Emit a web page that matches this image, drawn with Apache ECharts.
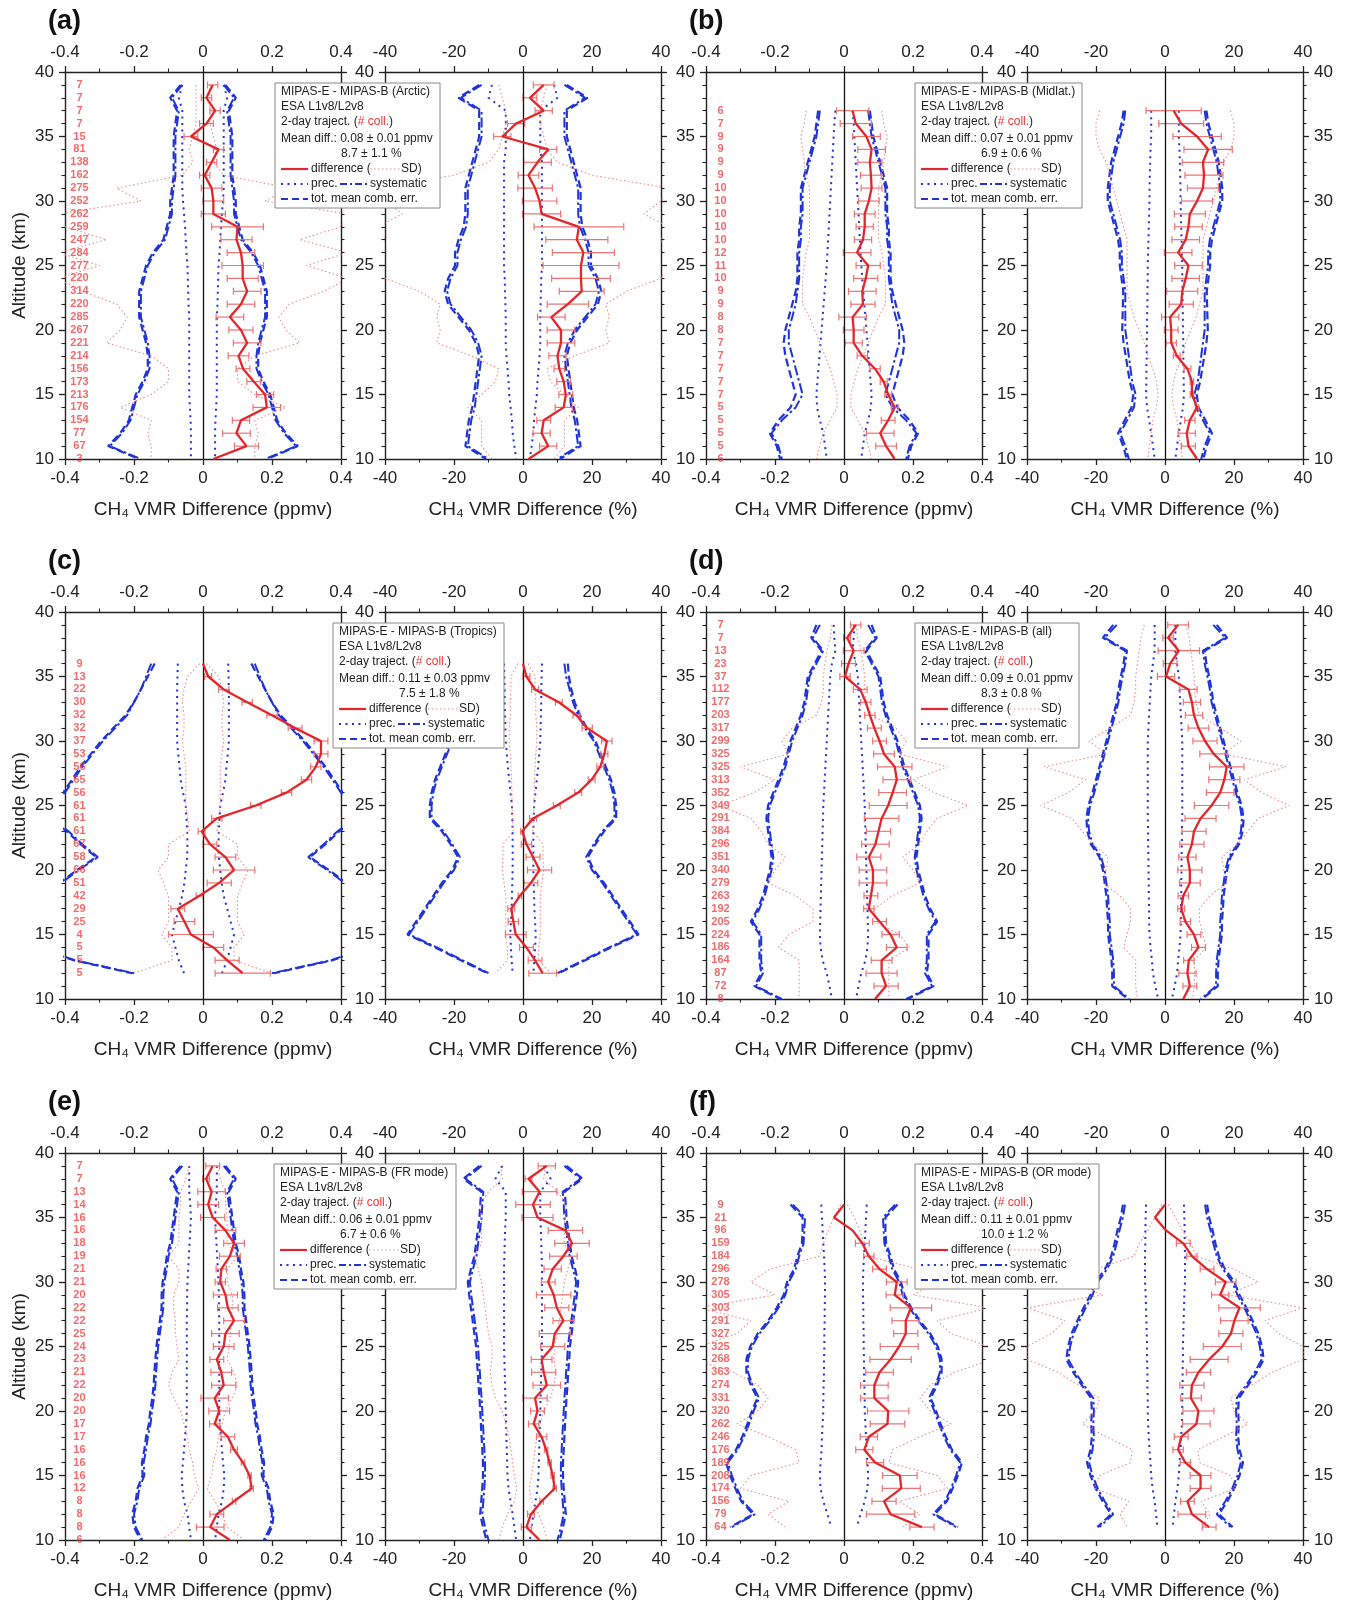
<!DOCTYPE html>
<html><head><meta charset="utf-8">
<script src="https://cdn.jsdelivr.net/npm/echarts@6/dist/echarts.min.js"></script>
<style>html,body{margin:0;padding:0;background:#fff}#c{width:1351px;height:1604px}</style>
</head><body><div id="c"></div>
<script>
// ---------- altitude levels (km), top to bottom ----------
const alt39to10 = [39,38,37,36,35,34,33,32,31,30,29,28,27,26,25,24,23,22,21,20,19,18,17,16,15,14,13,12,11,10];
const alt37to10 = [37,36,35,34,33,32,31,30,29,28,27,26,25,24,23,22,21,20,19,18,17,16,15,14,13,12,11,10];
const alt36to12 = [36,35,34,33,32,31,30,29,28,27,26,25,24,23,22,21,20,19,18,17,16,15,14,13,12];
const alt36to11 = [36,35,34,33,32,31,30,29,28,27,26,25,24,23,22,21,20,19,18,17,16,15,14,13,12,11];

// ---------- tick labels ----------
const ppmvTicks = [-0.4,-0.2,0,0.2,0.4];
const pctTicks = [-40,-20,0,20,40];
const altTicks = [10,15,20,25,30,35,40];

// ---------- (a) Arctic ----------
const countsA = [7,7,7,7,15,81,138,162,275,252,262,259,247,284,277,220,314,220,285,267,221,214,156,173,213,176,154,77,67,3];
const aDiffP = [0.028,0.01,0.035,0.01,-0.035,0.045,0.025,0.005,0.025,0.03,0.03,0.1,0.097,0.11,0.115,0.115,0.128,0.11,0.078,0.11,0.128,0.103,0.116,0.147,0.18,0.185,0.11,0.097,0.126,0.03];
const aErrP = [0.015,0.015,0.015,0.02,0.02,0.015,0.015,0.015,0.03,0.03,0.035,0.075,0.045,0.04,0.06,0.045,0.04,0.04,0.04,0.035,0.04,0.03,0.02,0.02,0.025,0.04,0.025,0.04,0.035,0];
const aSdP = [0.02,0.02,0.02,0.02,0.03,0.04,0.03,0.06,0.25,0.18,0.42,0.4,0.28,0.42,0.3,0.42,0.35,0.25,0.22,0.24,0.28,0.15,0.1,0.1,0.15,0.24,0.15,0.16,0.15,0.15];
const aPrecP = [0.06,0.07,0.06,0.06,0.06,0.06,0.06,0.06,0.06,0.058,0.055,0.052,0.05,0.048,0.045,0.044,0.043,0.042,0.04,0.04,0.04,0.04,0.04,0.04,0.04,0.038,0.036,0.035,0.035,0.035];
const aSysP = [0.06,0.09,0.07,0.075,0.08,0.08,0.08,0.08,0.085,0.09,0.09,0.1,0.11,0.14,0.16,0.17,0.18,0.18,0.18,0.17,0.16,0.155,0.155,0.17,0.19,0.2,0.21,0.235,0.27,0.18];
const aTotP = [0.065,0.095,0.075,0.08,0.085,0.085,0.085,0.085,0.09,0.095,0.095,0.105,0.115,0.145,0.165,0.175,0.185,0.185,0.185,0.175,0.165,0.16,0.16,0.175,0.195,0.205,0.215,0.24,0.275,0.185];
const aDiffR = [6,2,6,-2,-6,7.3,4.2,1.6,3.5,4.8,5.4,16.2,15.6,17.5,16.8,16.8,17,13,8.2,11,11,10,10.5,11.8,12.4,11.8,6,5.4,7.3,1.6];
const aErrR = [3,2,2.5,2.5,2.5,2.5,4,3,5,5,5.5,13,9,9,11,8.5,6.5,6,4,4,4,2.5,1.5,2,2,2.5,2,2.5,2.5,0];
const aSdR = [7,6,5,5,6,7,10,20,42,40,35,42,40,42,42,40,30,24,25,24,25,15,7,8,12,16,12,12,12,9];
const aPrecR = [9,10,5,5,5,5,5.5,5.5,5.5,5.5,5.5,5.5,5.5,5.5,5.5,5.3,5.2,5.1,5,5,5,4.8,4.5,4.2,4,3.6,3.2,3,2.5,2];
const aSysR = [12,18,12,12,12,13,14,15,16,16,16,16.5,18,19,19,21,22,21,18,15,13,12,12.5,13,13.5,14,15,15.5,16,10];
const aTotR = [12.7,18.7,12.7,12.7,12.7,13.7,14.7,15.7,16.7,16.7,16.7,17.2,18.7,19.7,19.7,21.7,22.7,21.7,18.7,15.7,13.7,12.7,13.2,13.7,14.2,14.7,15.7,16.2,16.7,10.7];

// ---------- (b) Midlat. ----------
const countsB = [6,7,9,9,9,9,10,10,10,10,10,12,11,10,9,9,8,8,7,7,7,7,7,5,5,5,5,6];
const bDiffP = [0.025,0.034,0.065,0.08,0.075,0.078,0.08,0.072,0.06,0.06,0.055,0.038,0.07,0.063,0.053,0.055,0.025,0.028,0.028,0.053,0.09,0.115,0.128,0.147,0.128,0.105,0.122,0.147];
const bErrP = [0.047,0.045,0.04,0.04,0.035,0.03,0.03,0.03,0.03,0.025,0.025,0.04,0.035,0.035,0.04,0.035,0.04,0.03,0.025,0.015,0.015,0.01,0.01,0.01,0.02,0.04,0.03,0];
const bSdP = [0.11,0.115,0.125,0.12,0.115,0.11,0.1,0.1,0.1,0.1,0.1,0.11,0.115,0.12,0.12,0.12,0.1,0.085,0.07,0.055,0.04,0.03,0.02,0.02,0.04,0.06,0.07,0.08];
const bPrecP = [0.025,0.028,0.03,0.032,0.034,0.036,0.038,0.04,0.042,0.044,0.046,0.048,0.05,0.053,0.056,0.059,0.062,0.065,0.068,0.071,0.074,0.077,0.08,0.078,0.07,0.06,0.055,0.05];
const bSysP = [0.07,0.075,0.08,0.09,0.1,0.11,0.12,0.12,0.12,0.125,0.125,0.13,0.13,0.13,0.135,0.14,0.15,0.16,0.16,0.15,0.14,0.13,0.12,0.14,0.18,0.21,0.19,0.18];
const bTotP = [0.075,0.08,0.085,0.095,0.105,0.115,0.125,0.125,0.125,0.13,0.13,0.135,0.135,0.135,0.14,0.15,0.16,0.17,0.175,0.17,0.16,0.15,0.14,0.155,0.19,0.215,0.195,0.185];
const bDiffR = [2.5,4.7,9.3,12.5,11,11.3,11,9.3,7.2,6.8,6,3.8,6.8,6,5,4.7,1.5,1.8,1.8,3.4,6.5,7.8,7.8,9.3,7.2,6.3,6.8,9.3];
const bErrR = [8,6.5,7,7,6,5.5,4.5,4.5,4.5,4,4,4,4,4,4.5,3.5,2.5,2,1.5,1,1,0.5,0.5,0.5,1.5,2.5,2,0];
const bSdR = [19,20,20,19,17,16,15,14,13,12,11,11,11,11,11,10,9,7.5,6,5,3.5,2.5,2,2.5,3.5,4,4.5,5];
const bPrecR = [4,4,4,4.2,4.3,4.4,4.5,4.5,4.6,4.7,4.8,4.9,5,5,5.1,5.1,5.2,5.2,5.3,5.3,5.4,5.4,5.5,5.2,4.6,4,3.5,3];
const bSysR = [11.5,12,13,14,15,15.5,16,16,15,14,13,12.5,12.5,12,11.5,11.5,11.5,11.5,11,10.5,10,9.5,8.5,9,11,13,11.5,10.5];
const bTotR = [12,12.6,13.6,14.6,15.6,16.1,16.6,16.6,15.6,14.6,13.6,13.1,13.1,12.6,12.1,12.2,12.3,12.4,12,11.4,10.8,10.2,9.2,9.7,11.7,13.6,12.1,11.1];

// ---------- (c) Tropics ----------
const countsC = [9,13,22,30,32,32,37,53,56,65,56,61,61,61,67,58,66,51,42,29,25,4,5,5,5];
const cDiffP = [0,0.015,0.06,0.128,0.2,0.267,0.342,0.342,0.327,0.3,0.242,0.153,0.04,-0.004,0.02,0.065,0.09,0.047,-0.01,-0.073,-0.054,-0.035,0.03,0.07,0.115];
const cErrP = [0,0.01,0.015,0.015,0.015,0.02,0.02,0.02,0.015,0.015,0.015,0.015,0.015,0.01,0.02,0.03,0.06,0.035,0.01,0.02,0.03,0.065,0.03,0.035,0.08];
const cSdP = [0.01,0.045,0.055,0.06,0.055,0.055,0.06,0.055,0.05,0.05,0.05,0.05,0.045,0.04,0.1,0.1,0.13,0.115,0.1,0.1,0.1,0.12,0.09,0.09,0.2];
const cPrecP = [0.073,0.074,0.075,0.075,0.075,0.075,0.075,0.072,0.068,0.065,0.058,0.05,0.048,0.046,0.045,0.046,0.05,0.054,0.06,0.07,0.08,0.09,0.08,0.07,0.055];
const cSysP = [0.15,0.165,0.18,0.2,0.22,0.255,0.29,0.32,0.35,0.375,0.4,0.43,0.44,0.39,0.35,0.305,0.36,0.41,0.44,0.47,0.5,0.56,0.48,0.37,0.2];
const cTotP = [0.14,0.16,0.18,0.2,0.225,0.26,0.295,0.325,0.355,0.38,0.405,0.435,0.445,0.395,0.355,0.31,0.365,0.415,0.445,0.475,0.505,0.565,0.485,0.375,0.205];
const cDiffR = [0,1,3.5,10.4,15.5,18.6,24.3,23.6,22.4,19.9,16,9.8,2.9,-0.2,1,2.9,4.8,2.3,-0.9,-3.4,-2.8,-2.1,1,3.5,5.7];
const cErrR = [0,1,1,1,1,1.5,1.5,1,1,1,1,1,1,0.5,1.5,2,3.5,2,0.5,1,1.5,3,2,2,4];
const cSdR = [1.5,3.5,3.5,3.7,3.7,4,4,3.7,3.5,3.3,3.2,3.2,3,2.8,5.8,5.8,6,5.5,5,5,5,5,4.5,4.5,8];
const cPrecR = [5.5,5.4,5.3,5.3,5.2,5.1,5,4.7,4.4,4,3.6,3.2,3.1,3,3,3,3,3.1,3.2,3.3,3.5,3.7,3.5,3.3,3];
const cSysR = [12,12.5,13.5,14.5,16,18,20.5,22,23.5,25,26,26.5,26.5,23,20.5,18.3,20,23,25.5,28,30.5,33,25,17.5,10];
const cTotR = [13,13.3,14,15,16.5,18.5,21,22.5,24,25.5,26.5,27,27,23.5,21,18.8,20.5,23.5,26,28.5,31,33.5,25.5,18,10.3];

// ---------- (d) all ----------
const countsD = [7,7,13,23,37,112,177,203,317,299,325,325,313,352,349,291,384,296,351,340,279,263,192,205,224,186,164,87,72,8];
const dDiffP = [0.034,0.009,0.028,0.013,0.003,0.047,0.063,0.075,0.088,0.103,0.116,0.147,0.153,0.141,0.128,0.109,0.1,0.091,0.072,0.084,0.084,0.078,0.072,0.103,0.135,0.153,0.109,0.109,0.122,0.09];
const dErrP = [0.015,0.01,0.03,0.02,0.015,0.02,0.015,0.015,0.02,0.02,0.03,0.05,0.04,0.04,0.055,0.05,0.035,0.04,0.035,0.04,0.04,0.02,0.015,0.02,0.025,0.03,0.03,0.045,0.035,0];
const dSdP = [0.035,0.04,0.05,0.055,0.06,0.06,0.065,0.08,0.15,0.18,0.16,0.3,0.2,0.26,0.36,0.27,0.24,0.22,0.17,0.2,0.22,0.14,0.09,0.09,0.16,0.19,0.13,0.13,0.13,0.13];
const dPrecP = [0.03,0.028,0.025,0.035,0.04,0.042,0.044,0.046,0.048,0.05,0.052,0.054,0.056,0.058,0.06,0.061,0.062,0.063,0.064,0.065,0.066,0.067,0.068,0.069,0.07,0.068,0.062,0.05,0.042,0.035];
const dSysP = [0.07,0.09,0.06,0.08,0.1,0.105,0.11,0.12,0.135,0.15,0.16,0.17,0.185,0.2,0.215,0.22,0.215,0.21,0.205,0.21,0.22,0.23,0.245,0.265,0.24,0.24,0.24,0.235,0.255,0.18];
const dTotP = [0.08,0.095,0.065,0.085,0.105,0.11,0.115,0.125,0.14,0.155,0.165,0.175,0.19,0.205,0.22,0.225,0.22,0.215,0.21,0.215,0.225,0.235,0.25,0.27,0.245,0.245,0.245,0.24,0.26,0.185];
const dDiffR = [3.8,0.9,4,1.5,0.3,6.8,7.8,8.4,9.7,11.6,14.1,17.9,17.2,16,13.5,10.3,8.4,7.8,6.5,7.2,7.2,5.3,4.7,5.9,8.4,9.7,6.9,6.5,7.2,5.3];
const dErrR = [3,1.5,6,2,2.5,2.5,2.5,2.5,3,3.5,4,5,4.5,4,5,4.5,3.5,3.5,2.5,3.5,3,1.5,1,1.5,2,2,1.5,2.5,2,0];
const dSdR = [6,7,7.5,8,8.5,8.5,9,10,16,22,17,35,23,28,36,27,24,21,16.5,17,18,13,10,10,11,12,8.5,8.5,8.5,8];
const dPrecR = [3,3,3,3.5,4,4.2,4.4,4.6,4.8,5,5,5,5,5,5,5,4.9,4.9,4.8,4.8,4.7,4.7,4.6,4.6,4.5,4.2,3.8,3.5,2.8,2];
const dSysR = [14,17.5,11,11.5,12.3,13,13.5,14.5,15.5,16.5,17.5,18.5,19.5,20.5,21.7,22.3,22,21,18.5,17.5,17,16.5,16.3,16,16,15.5,15,14.8,14.8,10.4];
const dTotR = [15,18,11.5,12,12.8,13.5,14,15,16,17,18,19,20,21,22.2,22.8,22.5,21.5,19,18,17.5,17,16.8,16.5,16.5,16,15.5,15.3,15.3,10.8];

// ---------- (e) FR mode ----------
const countsE = [7,7,13,14,16,16,18,19,21,21,20,22,22,25,24,23,21,22,20,20,17,17,16,16,16,12,8,8,8,6];
const eDiffP = [0.028,0.009,0.025,0.015,0.028,0.065,0.09,0.078,0.053,0.05,0.065,0.072,0.09,0.065,0.06,0.04,0.053,0.06,0.034,0.047,0.034,0.072,0.09,0.116,0.135,0.141,0.09,0.04,0.021,0.078];
const eErrP = [0.02,0.01,0.04,0.03,0.035,0.03,0.03,0.03,0.015,0.015,0.035,0.03,0.03,0.04,0.03,0.02,0.03,0.035,0.04,0.03,0.015,0.02,0.01,0.005,0.005,0.005,0.005,0.02,0.04,0];
const eSdP = [0.04,0.05,0.065,0.065,0.07,0.07,0.07,0.1,0.07,0.07,0.085,0.085,0.08,0.08,0.075,0.07,0.09,0.1,0.085,0.065,0.055,0.045,0.04,0.03,0.025,0.012,0.035,0.055,0.07,0.12];
const ePrecP = [0.04,0.04,0.04,0.037,0.035,0.037,0.039,0.041,0.043,0.045,0.046,0.046,0.047,0.047,0.047,0.047,0.047,0.047,0.047,0.047,0.049,0.052,0.055,0.058,0.062,0.06,0.055,0.045,0.04,0.035];
const eSysP = [0.06,0.09,0.07,0.075,0.08,0.085,0.09,0.1,0.105,0.112,0.115,0.115,0.12,0.125,0.13,0.133,0.136,0.138,0.142,0.148,0.152,0.16,0.165,0.172,0.17,0.185,0.19,0.2,0.195,0.176];
const eTotP = [0.065,0.095,0.075,0.08,0.085,0.09,0.095,0.105,0.11,0.117,0.12,0.12,0.125,0.13,0.135,0.138,0.141,0.143,0.147,0.153,0.157,0.165,0.17,0.177,0.175,0.19,0.195,0.205,0.2,0.181];
const eDiffR = [6.9,1.6,4.8,2.9,4.2,12.3,14.2,11.7,8.6,7.3,8.9,9.8,11.7,9.2,8.6,5.4,6,6.9,3.5,4.2,3.1,5.4,6.7,7.7,8.6,9.2,5.4,2.3,1,4.8];
const eErrR = [2.5,1,5,5,4.5,5,5,4,2.5,2,5,3.5,3,4.5,3.5,3,3.5,4,3.5,2,1.5,1.5,0.5,0.5,0.5,0.5,0.5,1,1.5,0];
const eSdR = [6.5,6,10,12.5,12,12,12,14,13,12,11.5,11,10.5,10,9,9,9.5,9,8,6,5,4,3.5,3,2.5,1.8,2.5,4.5,6,7];
const ePrecR = [6,8,5,5,5,5.2,5.3,5.4,5.5,5.5,5.5,5.5,5.5,5.5,5.5,5.4,5.3,5.2,5.1,5,4.9,4.8,4.7,4.6,4.5,4.2,3.6,3,2.5,2];
const eSysR = [12,16.7,11.5,11.8,12,12.5,13,13.5,14.5,15.4,15,14.5,14,13.5,13,12.8,12.5,12.3,12,11.8,11.6,11.4,11.2,11,11,11.2,11.5,11.8,11,10];
const eTotR = [12.6,17.3,12.1,12.4,12.6,13.1,13.6,14.1,15.1,16,15.6,15.1,14.6,14.1,13.6,13.4,13.1,12.9,12.6,12.4,12.2,12,11.8,11.6,11.6,11.8,12.1,12.4,11.6,10.6];

// ---------- (f) OR mode ----------
const countsF = [9,21,96,159,184,296,278,305,303,291,327,325,268,363,274,331,320,262,246,176,189,208,174,156,79,64];
const fDiffP = [0,-0.029,0.025,0.053,0.072,0.103,0.153,0.147,0.194,0.179,0.179,0.16,0.135,0.103,0.088,0.088,0.128,0.126,0.072,0.059,0.09,0.162,0.166,0.116,0.135,0.226];
const fErrP = [0,0,0,0.02,0.015,0.02,0.03,0.025,0.06,0.04,0.035,0.055,0.06,0.04,0.04,0.04,0.06,0.05,0.025,0.025,0.025,0.05,0.055,0.035,0.07,0.035];
const fSdP = [0.01,0.03,0.045,0.06,0.07,0.215,0.27,0.2,0.42,0.27,0.31,0.42,0.43,0.32,0.25,0.22,0.25,0.31,0.22,0.14,0.13,0.27,0.3,0.16,0.22,0.17];
const fPrecP = [0.066,0.064,0.062,0.06,0.058,0.056,0.055,0.055,0.056,0.056,0.057,0.057,0.058,0.058,0.059,0.06,0.06,0.062,0.064,0.065,0.068,0.07,0.068,0.06,0.048,0.037];
const fSysP = [0.148,0.113,0.115,0.117,0.13,0.14,0.16,0.17,0.19,0.215,0.245,0.267,0.278,0.278,0.265,0.246,0.262,0.275,0.29,0.308,0.337,0.325,0.31,0.293,0.258,0.325];
const fTotP = [0.155,0.12,0.12,0.122,0.135,0.145,0.165,0.175,0.195,0.22,0.25,0.272,0.283,0.283,0.27,0.251,0.267,0.28,0.295,0.313,0.342,0.33,0.315,0.298,0.263,0.33];
const fDiffR = [0,-2.9,0.3,5.3,7.8,12.2,17.6,16,21.6,20.1,19.1,16.6,12.8,9.7,7.8,7.5,9.7,9.1,4.7,3.8,5.9,10.3,10.3,6.5,7.8,12.8];
const fErrR = [0,0,0,2,1.5,2,3,2.5,6,4,3.5,5.5,5.5,3.5,3.5,3,4.5,4,2,1.5,1.5,3,3,2,4,2];
const fSdR = [1,3,5,7.5,9,20,27,18,40,29,33,40,40,31,25,19,20,24,17,9.5,10,19,20.5,10.5,13,11];
const fPrecR = [5.5,5.6,5.7,5.7,5.8,5.8,5.8,5.6,5.5,5.4,5.3,5.2,5.2,5.1,5.1,5,5,4.9,4.7,4.5,4.2,4,3.6,3,2.6,2.2];
const fSysR = [11.6,12.2,13.2,14,15,16.8,19.5,21,23,24.8,26.5,27.5,28,26,23.5,20.8,20.6,20.8,20.6,21,22,21,19.5,17.5,15,19];
const fTotR = [12.2,12.8,13.8,14.6,15.6,17.4,20.1,21.6,23.6,25.4,27.1,28.1,28.6,26.6,24.1,21.4,21.2,21.4,21.2,21.6,22.6,21.6,20.1,18.1,15.6,19.6];

// ---------- legend texts ----------
const panelLabels = ['(a)','(b)','(c)','(d)','(e)','(f)'];
const legendTitles = ['MIPAS-E - MIPAS-B (Arctic)','MIPAS-E - MIPAS-B (Midlat.)','MIPAS-E - MIPAS-B (Tropics)','MIPAS-E - MIPAS-B (all)','MIPAS-E - MIPAS-B (FR mode)','MIPAS-E - MIPAS-B (OR mode)'];
const legendMeans = ['Mean diff.: 0.08 ± 0.01 ppmv','Mean diff.: 0.07 ± 0.01 ppmv','Mean diff.: 0.11 ± 0.03 ppmv','Mean diff.: 0.09 ± 0.01 ppmv','Mean diff.: 0.06 ± 0.01 ppmv','Mean diff.: 0.11 ± 0.01 ppmv'];
const legendPcts = ['8.7 ± 1.1 %','6.9 ± 0.6 %','7.5 ± 1.8 %','8.3 ± 0.8 %','6.7 ± 0.6 %','10.0 ± 1.2 %'];

// ---------- layout & style ----------
const FONT = '"Liberation Sans", Arial, Helvetica, sans-serif';
const BLUE = '#1f33d6', RED = '#e3262b', PINK = '#f08a8a', ERRC = '#ee7474', CNT = '#f04545';
const COLX = [[65,385],[706,1027]];
const ROWY = [72,612,1153];
const W = 276, H = 387;
const LEGX = [275,915,333,915,274,915];
const LEGW = [165,167,171,164,182,184];
const LEGY = [83,623,1164];
const COUNT_X = -0.358;

const panels = [
  {alts:alt39to10, counts:countsA, P:[aDiffP,aErrP,aSdP,aPrecP,aSysP,aTotP], R:[aDiffR,aErrR,aSdR,aPrecR,aSysR,aTotR]},
  {alts:alt37to10, counts:countsB, P:[bDiffP,bErrP,bSdP,bPrecP,bSysP,bTotP], R:[bDiffR,bErrR,bSdR,bPrecR,bSysR,bTotR]},
  {alts:alt36to12, counts:countsC, P:[cDiffP,cErrP,cSdP,cPrecP,cSysP,cTotP], R:[cDiffR,cErrR,cSdR,cPrecR,cSysR,cTotR]},
  {alts:alt39to10, counts:countsD, P:[dDiffP,dErrP,dSdP,dPrecP,dSysP,dTotP], R:[dDiffR,dErrR,dSdR,dPrecR,dSysR,dTotR]},
  {alts:alt39to10, counts:countsE, P:[eDiffP,eErrP,eSdP,ePrecP,eSysP,eTotP], R:[eDiffR,eErrR,eSdR,ePrecR,eSysR,eTotR]},
  {alts:alt36to11, counts:countsF, P:[fDiffP,fErrP,fSdP,fPrecP,fSysP,fTotP], R:[fDiffR,fErrR,fSdR,fPrecR,fSysR,fTotR]}
];

const grids = [], xAxes = [], yAxes = [], series = [], graphics = [];

function makeX(gi, pos, ticks){
  return {type:'value', gridIndex:gi, position:pos, min:ticks[0], max:ticks[ticks.length-1], interval:ticks[1]-ticks[0], z:1,
    axisLine:{show:true, onZero:false, lineStyle:{color:'#222', width:1.4}},
    axisTick:{show:true, inside:false, length:6, lineStyle:{color:'#222', width:1.3}},
    minorTick:{show:true, splitNumber:2, length:3.5, lineStyle:{color:'#222', width:1.1}},
    axisLabel:{show:true, fontSize:17, color:'#222', fontFamily:FONT, margin:11, showMinLabel:true, showMaxLabel:true, hideOverlap:false},
    splitLine:{show:false}, minorSplitLine:{show:false}};
}
function makeY(gi, pos, showLabel){
  return {type:'value', gridIndex:gi, position:pos, min:altTicks[0], max:altTicks[altTicks.length-1], interval:altTicks[1]-altTicks[0], z:1,
    axisLine:{show:true, onZero:false, lineStyle:{color:'#222', width:1.4}},
    axisTick:{show:true, inside:false, length:6, lineStyle:{color:'#222', width:1.3}},
    minorTick:{show:true, splitNumber:5, length:3.5, lineStyle:{color:'#222', width:1.1}},
    axisLabel:{show:showLabel, fontSize:17, color:'#222', fontFamily:FONT, margin:11, showMinLabel:true, showMaxLabel:true, hideOverlap:false},
    splitLine:{show:false}, minorSplitLine:{show:false}};
}

function addPlot(left, top, ticks, alts, arrs, counts, leftLabels, rightLabels){
  const gi = grids.length;
  grids.push({left:left, top:top, width:W, height:H, containLabel:false, outerBoundsMode:'none'});
  const xi = xAxes.length;
  xAxes.push(makeX(gi,'bottom',ticks)); xAxes.push(makeX(gi,'top',ticks));
  const yi = yAxes.length;
  yAxes.push(makeY(gi,'left',leftLabels)); yAxes.push(makeY(gi,'right',rightLabels));
  const [diff, err, sd, prec, sys, tot] = arrs;
  const base = {xAxisIndex:xi, yAxisIndex:yi, silent:true, animation:false};
  const line = (vals, sign, style, z) => Object.assign({}, base, {type:'line', symbol:'none', z:z, clip:true,
    data: alts.map((a,i)=>[sign*vals[i], a]), lineStyle: style});
  [-1,1].forEach(s=>{
    series.push(line(tot, s, {color:BLUE, width:2.2, type:[8,4]}, 2));
    series.push(line(sys, s, {color:BLUE, width:2, type:[10,3,2.5,3]}, 2));
    series.push(line(prec, s, {color:BLUE, width:2, type:[2,4.5]}, 2));
    series.push(line(sd, s, {color:PINK, width:1.1, type:[1.5,2.5]}, 3));
  });
  series.push(Object.assign({}, base, {type:'custom', z:4, clip:true,
    data: alts.map((a,i)=>[diff[i], err[i], a]),
    encode:{x:0, y:2},
    renderItem: function(params, api){
      const x = api.value(0), e = api.value(1), y = api.value(2);
      if (!e) return null;
      const l = api.coord([x-e, y]), r = api.coord([x+e, y]);
      const st = {stroke:ERRC, lineWidth:1.2};
      return {type:'group', children:[
        {type:'line', shape:{x1:l[0],y1:l[1],x2:r[0],y2:r[1]}, style:st},
        {type:'line', shape:{x1:l[0],y1:l[1]-3.5,x2:l[0],y2:l[1]+3.5}, style:st},
        {type:'line', shape:{x1:r[0],y1:r[1]-3.5,x2:r[0],y2:r[1]+3.5}, style:st}]};
    }}));
  series.push(line(diff, 1, {color:RED, width:2.3, type:'solid'}, 5));
  series[series.length-1].markLine = {silent:true, symbol:['none','none'], animation:false,
    label:{show:false}, lineStyle:{color:'#111', type:'solid', width:1.3}, data:[{xAxis:0}]};
  if (counts){
    series.push(Object.assign({}, base, {type:'scatter', z:6, symbolSize:1, itemStyle:{color:'rgba(0,0,0,0)'},
      data: alts.map((a,i)=>[COUNT_X, a, counts[i]]),
      label:{show:true, position:'inside', formatter:p=>String(p.value[2]), fontSize:11, fontWeight:'bold',
        color:CNT, fontFamily:FONT}}));
  }
}

function legendGroup(x, y, w, title, mean, pct){
  const f = '12px ' + FONT;
  const Z = 200;
  const T = (tx, ty, text) => ({type:'text', x:tx, y:ty, z:Z, zlevel:1, style:{text:text, font:f, fill:'#222', verticalAlign:'middle', align:'left'}});
  const L = (x1, x2, ty, color, dash, lw) => ({type:'line', z:Z, zlevel:1, shape:{x1:x1, y1:ty, x2:x2, y2:ty}, style:{stroke:color, lineWidth:lw, lineDash:dash}});
  return {type:'group', x:x, y:y, z:Z, zlevel:1, children:[
    {type:'rect', z:Z-1, zlevel:1, shape:{x:0, y:0, width:w, height:125}, style:{fill:'#ffffff', stroke:'#888', lineWidth:1}},
    T(6, 9, title), T(6, 24, 'ESA L1v8/L2v8'),
    {type:'text', x:6, y:39, z:Z, zlevel:1, style:{text:'{k|2-day traject. (}{r|# coll.}{k|)}', font:f, verticalAlign:'middle',
      rich:{k:{fill:'#222', font:f}, r:{fill:'#ee3333', font:f}}}},
    T(6, 56, mean), T(66, 71, pct),
    L(6, 33, 86, RED, null, 2.2), T(36, 86, 'difference ('), L(95, 125, 86, PINK, [1.5,2.5], 1), T(126, 86, 'SD)'),
    L(6, 33, 101, BLUE, [2,4.5], 2), T(36, 101, 'prec.'), L(65, 95, 101, BLUE, [7,3,2,3], 2), T(95, 101, 'systematic'),
    L(6, 33, 116, BLUE, [7,4], 2), T(36, 116, 'tot. mean comb. err.')
  ]};
}

panels.forEach((p, k) => {
  const col = k % 2, row = Math.floor(k / 2);
  const [lx, rx] = COLX[col];
  const top = ROWY[row];
  addPlot(lx, top, ppmvTicks, p.alts, p.P, p.counts, true, false);
  addPlot(rx, top, pctTicks, p.alts, p.R, null, true, col === 1);
  graphics.push({type:'text', x:lx-17, y:top-64, z:50, style:{text:panelLabels[k], font:'bold 27px ' + FONT, fill:'#111', verticalAlign:'top'}});
  graphics.push({type:'text', x:lx+W/2+10, y:top+H+51, z:50, style:{text:'CH₄ VMR Difference (ppmv)', font:'19px ' + FONT, fill:'#222', align:'center', verticalAlign:'middle'}});
  graphics.push({type:'text', x:rx+W/2+10, y:top+H+51, z:50, style:{text:'CH₄ VMR Difference (%)', font:'19px ' + FONT, fill:'#222', align:'center', verticalAlign:'middle'}});
  if (col === 0){
    graphics.push({type:'text', x:20, y:top+H/2, rotation:Math.PI/2, z:50, style:{text:'Altitude (km)', font:'19px ' + FONT, fill:'#222', align:'center', verticalAlign:'middle'}});
  }
  graphics.push(legendGroup(LEGX[k], LEGY[row], LEGW[k], legendTitles[k], legendMeans[k], legendPcts[k]));
});

const chart = echarts.init(document.getElementById('c'), null, {renderer:'canvas'});
chart.setOption({
  backgroundColor:'#fff', animation:false,
  grid: grids, xAxis: xAxes, yAxis: yAxes, series: series,
  graphic: {elements: graphics}
});
</script>
</body></html>
